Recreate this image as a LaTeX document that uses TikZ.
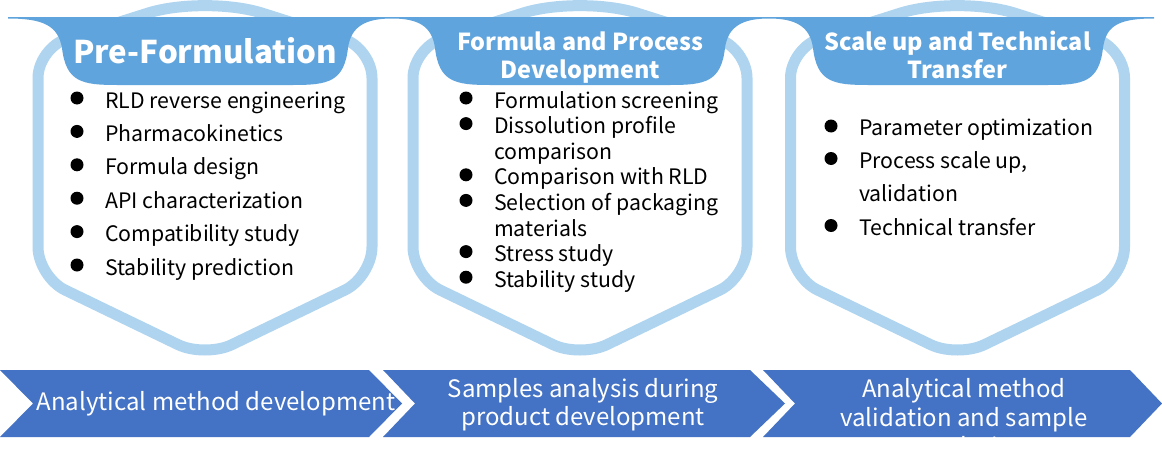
\documentclass[tikz,border=0pt]{standalone}
\usepackage{fontspec}
\setmainfont{Noto Sans CJK SC}
\definecolor{hexline}{HTML}{AED4F0}
\definecolor{band}{HTML}{5FA4DC}
\definecolor{chev}{HTML}{4472C4}
\tikzset{
  hexagon/.style={draw=hexline, line width=11pt, fill=white, line join=round},
  hexa/.pic={
    \draw[hexagon] (-167,150) -- (-167,78)
      .. controls (-167,61.5) and (-154.1,43.9) .. (-138.4,38.9)
      -- (-57.2,13.15)
      .. controls (-25.7,3.15) and (25.7,3.15) .. (57.2,13.15)
      -- (138.4,38.9)
      .. controls (154.1,43.9) and (167,61.5) .. (167,78)
      -- (167,247)
      .. controls (167,263.5) and (154.85,282.8) .. (140,290)
      -- (27,344.6)
      .. controls (12.14,351.8) and (-12.14,351.8) .. (-27,344.6)
      -- (-140,290)
      .. controls (-154.85,282.8) and (-167,263.5) .. (-167,247)
      -- cycle;
  },
  headerband/.style={fill=band},
  title/.style={text=white, font=\bfseries\fontsize{31.3}{36}\selectfont, inner sep=0pt, anchor=base},
  subtitle/.style={text=white, font=\bfseries\fontsize{23.4}{28}\selectfont, inner sep=0pt, anchor=base},
  item/.style={text=black, font=\fontsize{21.3}{26}\selectfont, inner sep=0pt, anchor=base west},
  dot/.style={fill=black, circle, inner sep=0pt, minimum size=13pt},
  chevron/.style={fill=chev},
  ctext/.style={text=white, font=\fontsize{24}{29}\selectfont, inner sep=0pt, anchor=base},
}
\begin{document}
\begin{tikzpicture}[x=1pt,y=-1pt]
\clip (0,0) rectangle (1162,463);
\fill[white] (0,0) rectangle (1162,463);

% hexagon frames
\pic (hexA) at (205,0) {hexa};
\pic (hexB) at (580,0) {hexa};
\pic (hexC) at (957.5,0) {hexa};

% header band with tabs
\fill[headerband] (8,17) -- (1154,17) -- (1154,18.5)
  .. controls (1118,18.5) and (1106,26) .. (1103,48)
  .. controls (1099,82) and (1083,85) .. (1048,85)
  -- (868,85)
  .. controls (833,85) and (817,82) .. (813,48)
  .. controls (810,26) and (795,18.5) .. (769,18.5)
  .. controls (743,18.5) and (728,26) .. (725,48)
  .. controls (721,82) and (705,85) .. (670,85)
  -- (490,85)
  .. controls (455,85) and (439,82) .. (435,48)
  .. controls (432,26) and (418,18.5) .. (392,18.5)
  .. controls (366,18.5) and (351,26) .. (348,48)
  .. controls (344,82) and (328,85) .. (293,85)
  -- (117,85)
  .. controls (82,85) and (66,82) .. (62,48)
  .. controls (58,26) and (44,18.5) .. (8,18.5) -- cycle;

% titles
\node[title] (t1) at (205,63) {Pre-Formulation};
\node[subtitle] (t2a) at (580.5,50) {Formula and Process};
\node[subtitle] (t2b) at (580.5,78) {Development};
\node[subtitle] (t3a) at (957.5,50) {Scale up and Technical};
\node[subtitle] (t3b) at (957.5,78) {Transfer};

% list 1
\node[dot] (d11) at (77,98) {};
\node[item] (i11) at (105,108) {RLD reverse engineering};
\node[dot] (d12) at (77,131.4) {};
\node[item] (i12) at (105,141.4) {Pharmacokinetics};
\node[dot] (d13) at (77,164.8) {};
\node[item] (i13) at (105,174.8) {Formula design};
\node[dot] (d14) at (77,198.2) {};
\node[item] (i14) at (105,208.2) {API characterization};
\node[dot] (d15) at (77,231.6) {};
\node[item] (i15) at (105,241.6) {Compatibility study};
\node[dot] (d16) at (77,265) {};
\node[item] (i16) at (105,275) {Stability prediction};

% list 2
\node[dot] (d21) at (466,98) {};
\node[item] (i21) at (494,108) {Formulation screening};
\node[dot] (d22) at (466,123.6) {};
\node[item] (i22) at (494,133.6) {Dissolution profile};
\node[item] (i22b) at (494,159.2) {comparison};
\node[dot] (d23) at (466,174.8) {};
\node[item] (i23) at (494,184.8) {Comparison with RLD};
\node[dot] (d24) at (466,200.4) {};
\node[item] (i24) at (494,210.4) {Selection of packaging};
\node[item] (i24b) at (494,236) {materials};
\node[dot] (d25) at (466,251.6) {};
\node[item] (i25) at (494,261.6) {Stress study};
\node[dot] (d26) at (466,277.2) {};
\node[item] (i26) at (494,287.2) {Stability study};

% list 3
\node[dot] (d31) at (831,126) {};
\node[item] (i31) at (859,135) {Parameter optimization};
\node[dot] (d32) at (831,158.5) {};
\node[item] (i32) at (859,168) {Process scale up,};
\node[item] (i32b) at (859,201.5) {validation};
\node[dot] (d33) at (831,225.5) {};
\node[item] (i33) at (859,235) {Technical transfer};

% chevrons
\fill[chevron] (0,370) -- (369,370) -- (402,403.5) -- (369,437) -- (0,437) -- (33,403.5) -- cycle;
\fill[chevron] (383,370) -- (750,370) -- (785,403.5) -- (750,437) -- (383,437) -- (415,403.5) -- cycle;
\fill[chevron] (763,370) -- (1130,370) -- (1162,403.5) -- (1130,437) -- (763,437) -- (795,403.5) -- cycle;

\node[ctext] (c1) at (216,410) {Analytical method development};
\node[ctext] (c2a) at (583,397) {Samples analysis during};
\node[ctext] (c2b) at (583,425.5) {product development};
\begin{scope}
  \clip (763,370) -- (1130,370) -- (1162,403.5) -- (1130,437) -- (763,437) -- (795,403.5) -- cycle;
  \node[ctext] (c3a) at (964,397) {Analytical method};
  \node[ctext] (c3b) at (964,426) {validation and sample};
  \node[ctext] (c3c) at (964,455) {analysis};
\end{scope}
\end{tikzpicture}
\end{document}
